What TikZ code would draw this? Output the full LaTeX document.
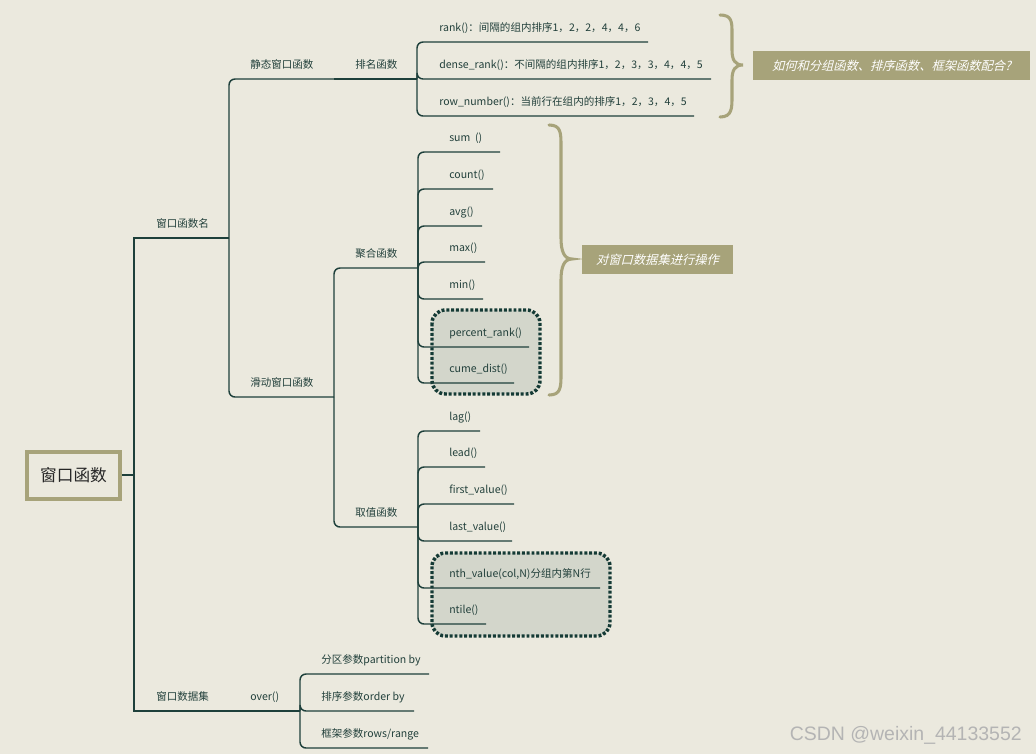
\documentclass[tikz,border=0pt]{standalone}
\usepackage{fontspec}
\setmainfont{Noto Sans CJK SC}
\newfontfamily\cjkit[FakeSlant=0.25]{Noto Sans CJK SC}
\newfontfamily\wmfont{Liberation Sans}
\definecolor{bg}{HTML}{EBE9DE}
\definecolor{ln}{HTML}{1E403B}
\definecolor{tx}{HTML}{22403B}
\definecolor{kh}{HTML}{A7A37A}
\definecolor{boxfill}{HTML}{D3D6CB}
\definecolor{dotc}{HTML}{143A35}
\definecolor{wmc}{HTML}{B4B4B4}
\begin{document}
\begin{tikzpicture}[x=0.75pt,y=-0.75pt,
  lbl/.style={anchor=south west, inner xsep=0pt, inner ysep=7.5pt, text depth=0pt,
    font=\fontsize{7.9pt}{9pt}\selectfont, text=tx},
  trunk/.style={draw=ln, line width=1.1pt},
  conn/.style={draw=ln, line width=1.1pt, rounded corners=4.5pt},
  rootbox/.style={draw=kh, line width=3pt, fill=bg, minimum width=69.75pt, minimum height=35.25pt,
    inner sep=0pt, font=\fontsize{12.5pt}{14pt}\selectfont, text=black!85},
  callout/.style={fill=kh, inner sep=0pt, minimum height=21.75pt, text=white,
    font=\cjkit\fontsize{9.2pt}{11pt}\selectfont},
  dotbox/.style={fill=boxfill, draw=dotc, line width=2.6pt, dash pattern=on 2.2pt off 1.4pt,
    rounded corners=10pt},
  bracestyle/.style={draw=kh, line width=2.3pt, line cap=round}
]
\useasboundingbox (0,0) rectangle (1036,754);
\fill[bg] (0,0) rectangle (1036,754);

% highlight boxes
\draw[dotbox] (432,310) rectangle (540,394);
\draw[dotbox] (432,553) rectangle (610,636);

% root
\node[rootbox] (root) at (73.5,475) {窗口函数};
\coordinate (J0) at (134,475);
\draw[trunk] (root.east) -- (J0);

% level 1
\node[lbl] (n1) at (156,238) {窗口函数名};
\coordinate (J1) at (229,238);
\draw[trunk] (J0) |- (n1.south west) -- (J1);
\node[lbl] (n2) at (156,711) {窗口数据集};
\coordinate (J7) at (229,711);
\draw[trunk] (J0) |- (n2.south west) -- (J7);

% level 2
\node[lbl] (s1) at (250,79) {静态窗口函数};
\coordinate (J2) at (334,79);
\draw[conn] (J1) |- (s1.south west) -- (J2);
\node[lbl] (s2) at (250,397) {滑动窗口函数};
\coordinate (J3) at (334,397);
\draw[conn] (J1) |- (s2.south west) -- (J3);
\node[lbl] (o0) at (250,711) {over()};
\coordinate (J8) at (300,711);
\draw[conn] (J7) -- (o0.south west) -- (J8);

% level 3
\node[lbl] (p1) at (355,79) {排名函数};
\coordinate (J4) at (417,79);
\draw[conn] (J2) -- (p1.south west) -- (J4);
\node[lbl] (a0) at (355,268) {聚合函数};
\coordinate (J5) at (418,268);
\draw[conn] (J3) |- (a0.south west) -- (J5);
\node[lbl] (v0) at (355,527) {取值函数};
\coordinate (J6) at (418,527);
\draw[conn] (J3) |- (v0.south west) -- (J6);

% ranking leaves
\node[lbl] (r1) at (439,42) {rank()：间隔的组内排序1，2，2，4，4，6};
\node[lbl] (r2) at (439,79) {dense\_rank()：不间隔的组内排序1，2，3，3，4，4，5};
\node[lbl] (r3) at (439,116) {row\_number()：当前行在组内的排序1，2，3，4，5};
\foreach \n/\l in {r1/156.75pt,r2/204pt,r3/191.25pt}
  \draw[conn] (J4) |- ([xshift=\l]\n.south west);

% aggregate leaves
\node[lbl] (g1) at (449,152) {sum\ \ ()};
\node[lbl] (g2) at (449,189) {count()};
\node[lbl] (g3) at (449,226) {avg()};
\node[lbl] (g4) at (449,262) {max()};
\node[lbl] (g5) at (449,299) {min()};
\node[lbl] (g6) at (449,347) {percent\_rank()};
\node[lbl] (g7) at (449,383) {cume\_dist()};
\foreach \n/\l in {g1/38.25pt,g2/33pt,g3/24.75pt,g4/27pt,g5/25.5pt,g6/60pt,g7/48.75pt}
  \draw[conn] (J5) |- ([xshift=\l]\n.south west);

% value leaves
\node[lbl] (v1) at (449,431) {lag()};
\node[lbl] (v2) at (449,467) {lead()};
\node[lbl] (v3) at (449,504) {first\_value()};
\node[lbl] (v4) at (449,541) {last\_value()};
\node[lbl] (v5) at (449,588) {nth\_value(col,N)分组内第N行};
\node[lbl] (v6) at (449,624) {ntile()};
\foreach \n/\l in {v1/23.25pt,v2/27pt,v3/48.75pt,v4/47.25pt,v5/113.25pt,v6/27.75pt}
  \draw[conn] (J6) |- ([xshift=\l]\n.south west);

% over() leaves
\node[lbl] (w1) at (321,674) {分区参数partition by};
\node[lbl] (w2) at (321,711) {排序参数order by};
\node[lbl] (w3) at (321,748) {框架参数rows/range};
\foreach \n/\l in {w1/81pt,w2/69.75pt,w3/80.25pt}
  \draw[conn] (J8) |- ([xshift=\l]\n.south west);

% callouts
\node[callout, minimum width=207.75pt] (c1) at (891.5,65.5) {如何和分组函数、排序函数、框架函数配合?};
\node[callout, minimum width=113.25pt] (c2) at (657.5,259.5) {对窗口数据集进行操作};

% braces
\draw[bracestyle] (720,15) .. controls (732,15) and (732,22) .. (732,33) -- (732,50)
  .. controls (732,60) and (735,65) .. (743,65)
  .. controls (735,65) and (732,70) .. (732,80) -- (732,97)
  .. controls (732,108) and (732,117) .. (720,117);
\draw[bracestyle] (549,125) .. controls (561,125) and (561,133) .. (561,146) -- (561,238)
  .. controls (561,251) and (564,259) .. (572,259)
  .. controls (564,259) and (561,267) .. (561,280) -- (561,374)
  .. controls (561,387) and (561,395) .. (549,395);

% watermark
\node[anchor=east, inner sep=0pt, text=wmc, font=\wmfont\fontsize{14.6pt}{16pt}\selectfont] (wm) at (1022,735) {CSDN @weixin\_44133552};
\end{tikzpicture}
\end{document}
